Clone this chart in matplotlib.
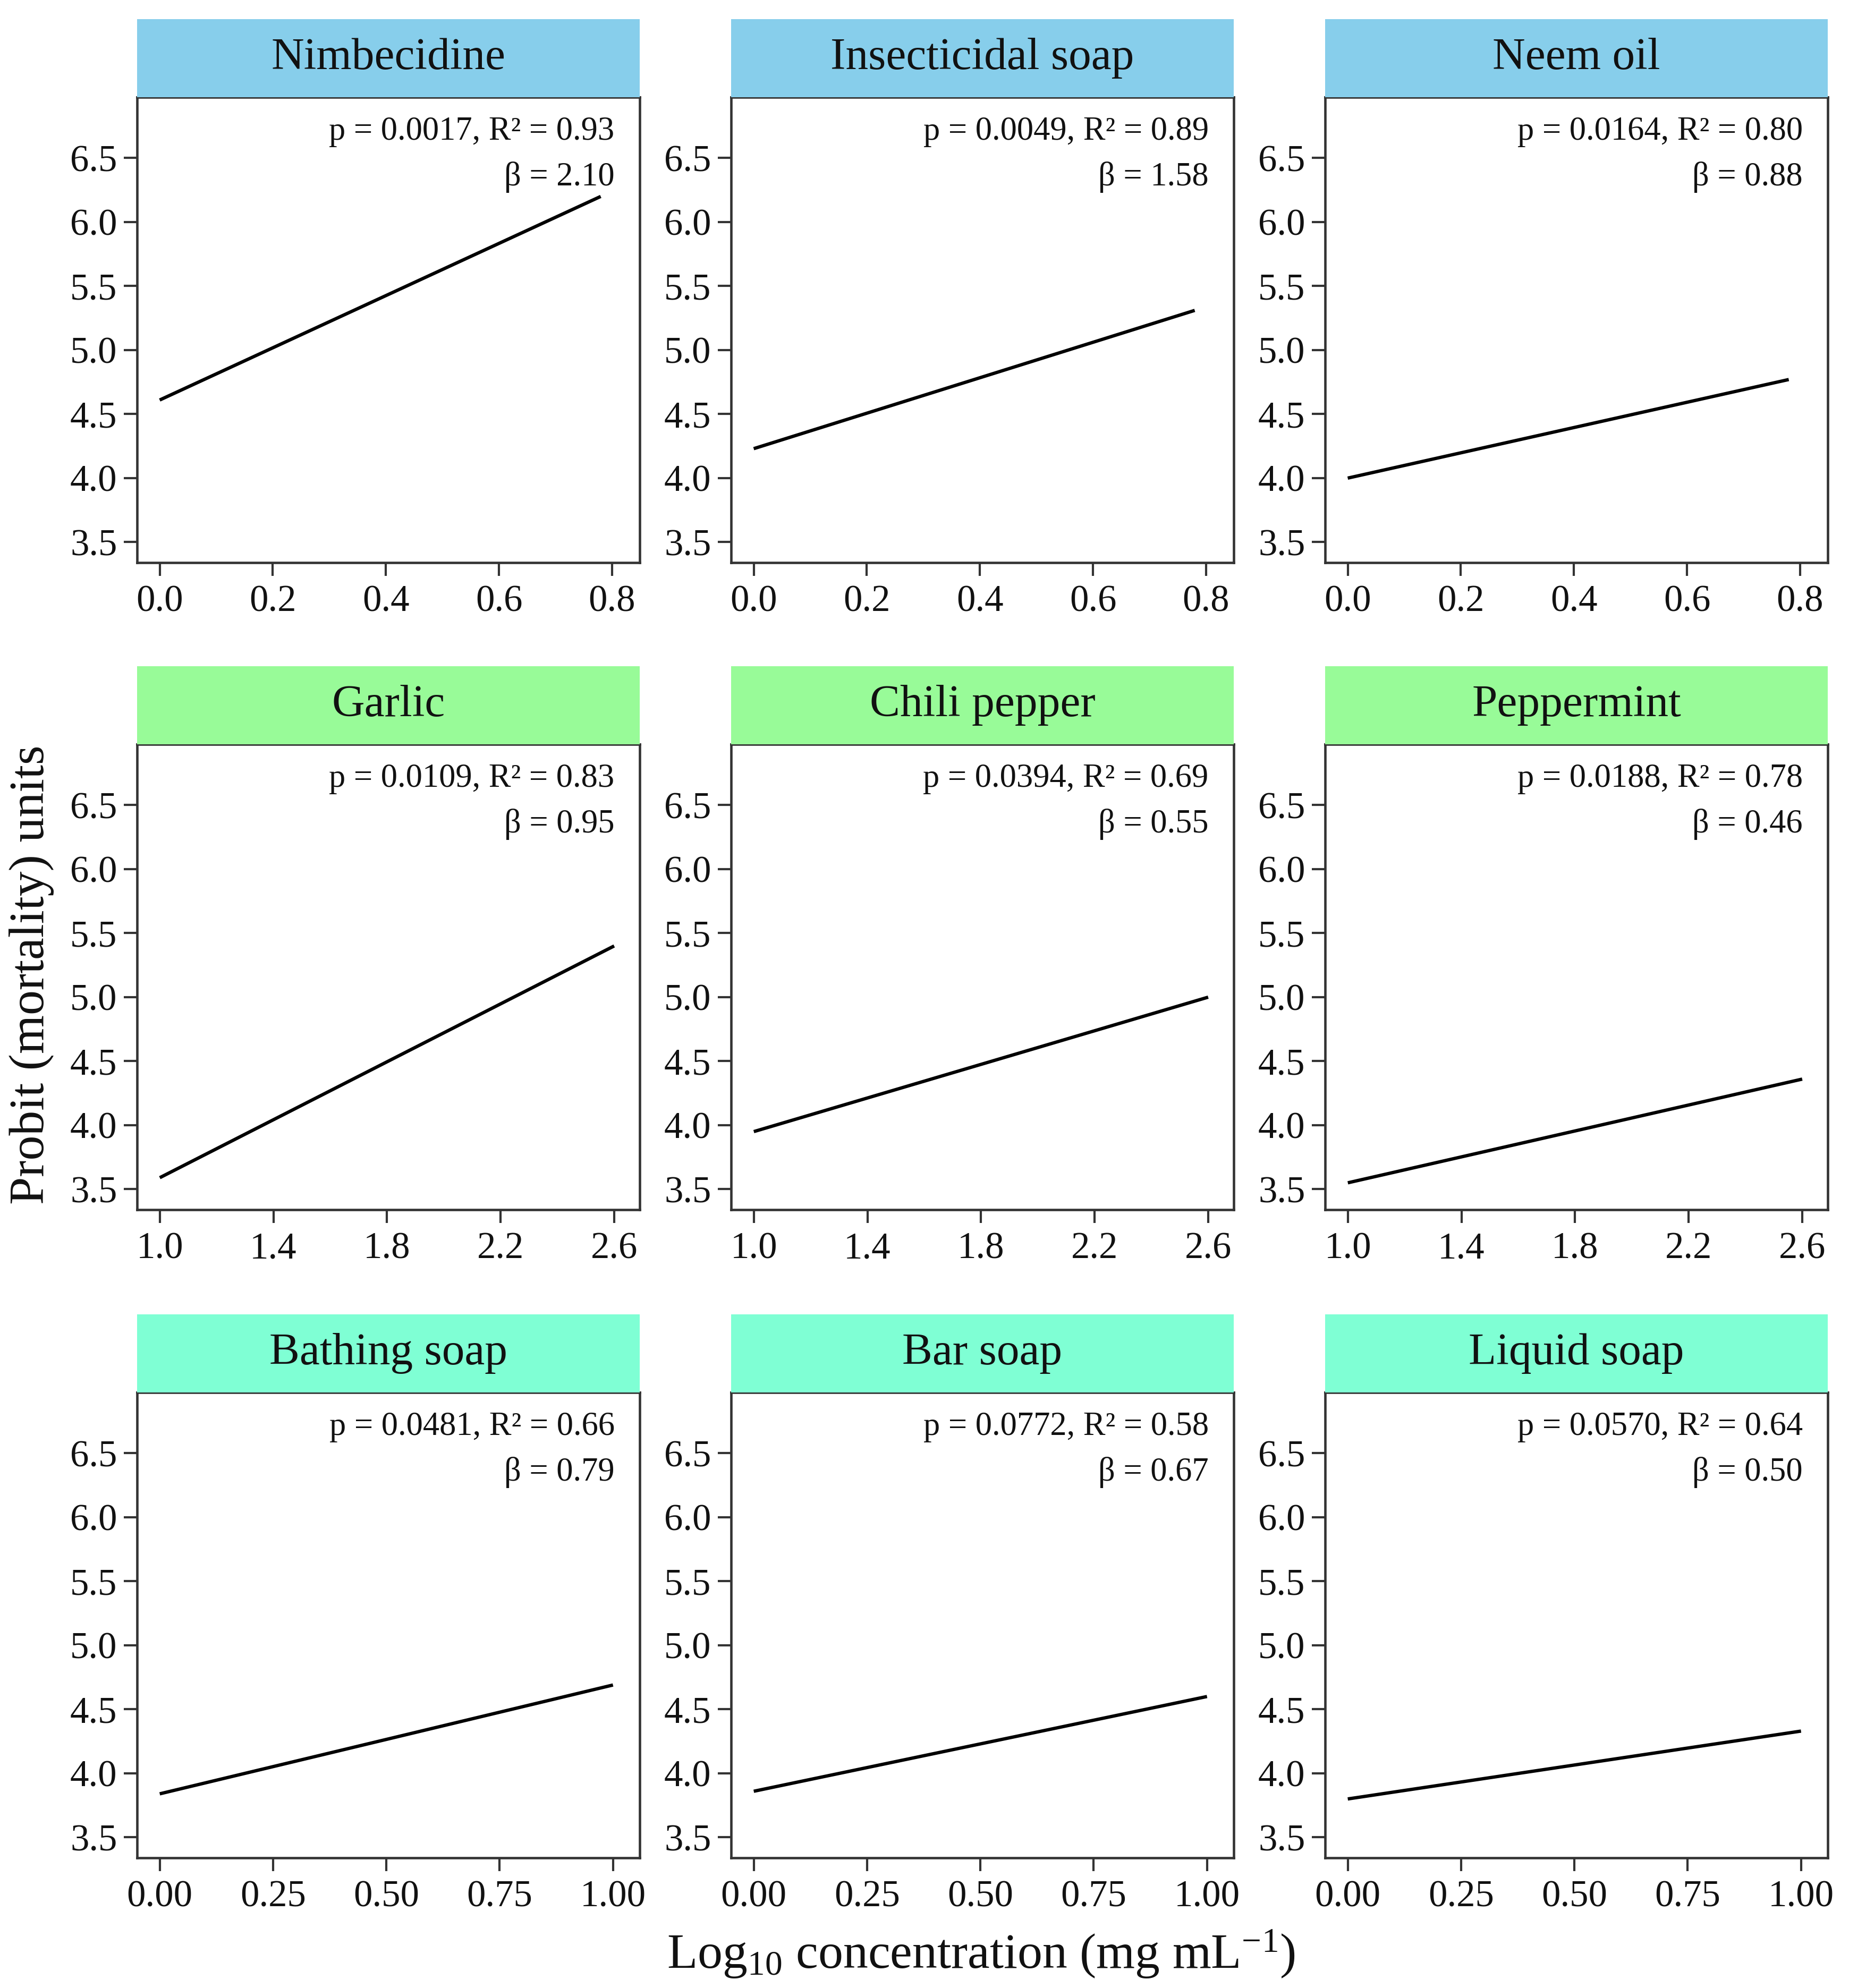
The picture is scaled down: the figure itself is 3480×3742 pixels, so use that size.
"""Probit regression lines for nine botanical / soap treatments (3x3 facets)."""

import matplotlib as mpl
import matplotlib.pyplot as plt

W, H, DPI = 3480, 3742, 300

NAMES = ["Nimbecidine", "Insecticidal soap", "Neem oil",
         "Garlic", "Chili pepper", "Peppermint",
         "Bathing soap", "Bar soap", "Liquid soap"]
STRIP = ["#87CEEB"] * 3 + ["#98FB98"] * 3 + ["#7FFFD4"] * 3

# fitted line end points
X_START = [0.0, 0.0, 0.0, 1.0, 1.0, 1.0, 0.0, 0.0, 0.0]
X_END = [0.78, 0.78, 0.78, 2.6, 2.6, 2.6, 1.0, 1.0, 1.0]
Y_START = [4.61, 4.23, 4.00, 3.59, 3.95, 3.55, 3.84, 3.86, 3.80]
Y_END = [6.20, 5.31, 4.77, 5.40, 5.00, 4.36, 4.69, 4.60, 4.33]

P_VAL = ["0.0017", "0.0049", "0.0164", "0.0109", "0.0394", "0.0188",
         "0.0481", "0.0772", "0.0570"]
R2 = ["0.93", "0.89", "0.80", "0.83", "0.69", "0.78", "0.66", "0.58", "0.64"]
BETA = ["2.10", "1.58", "0.88", "0.95", "0.55", "0.46", "0.79", "0.67", "0.50"]

ROW_XTICKS = [[0.0, 0.2, 0.4, 0.6, 0.8],
              [1.0, 1.4, 1.8, 2.2, 2.6],
              [0.0, 0.25, 0.5, 0.75, 1.0]]
ROW_XFMT = ["{:.1f}", "{:.1f}", "{:.2f}"]
ROW_XLIM = [(-0.040, 0.849), (0.92, 2.69), (-0.050, 1.059)]
YTICKS = [3.5, 4.0, 4.5, 5.0, 5.5, 6.0, 6.5]
YLIM = (3.34, 6.975)

INK = "#111111"
FRAME = "#333333"

mpl.rcParams.update({
    "font.family": ["Liberation Serif", "DejaVu Serif"],
    "mathtext.fontset": "custom",
    "mathtext.rm": "Liberation Serif",
    "mathtext.it": "Liberation Serif:italic",
    "text.color": INK,
    "xtick.color": FRAME,
    "ytick.color": FRAME,
    "xtick.labelcolor": INK,
    "ytick.labelcolor": INK,
    "xtick.labelsize": 17,
    "ytick.labelsize": 17,
    "xtick.major.size": 6,
    "ytick.major.size": 6,
    "xtick.major.width": 1.0,
    "ytick.major.width": 1.0,
    "xtick.major.pad": 4,
    "ytick.major.pad": 3,
})

fig = plt.figure(figsize=(W / DPI, H / DPI), dpi=DPI)

COL_LEFT = [258, 1376, 2494]
PANEL_W = 946
ROW_TOP = [183, 1401, 2621]
PANEL_H = 876
STRIP_H = 147


def px_box(left, top, width, height):
    return [left / W, 1 - (top + height) / H, width / W, height / H]


for i, name in enumerate(NAMES):
    row, col = divmod(i, 3)
    ax = fig.add_axes(px_box(COL_LEFT[col], ROW_TOP[row], PANEL_W, PANEL_H))
    ax.plot([X_START[i], X_END[i]], [Y_START[i], Y_END[i]], color="black",
            lw=1.5, solid_capstyle="butt")
    ax.set_xlim(*ROW_XLIM[row])
    ax.set_ylim(*YLIM)
    ax.set_xticks(ROW_XTICKS[row])
    ax.set_xticklabels([ROW_XFMT[row].format(t) for t in ROW_XTICKS[row]])
    ax.set_yticks(YTICKS)
    ax.set_yticklabels([f"{t:.1f}" for t in YTICKS])
    for sp in ax.spines.values():
        sp.set_color(FRAME)
        sp.set_linewidth(1.1)
    ax.text(0.95, 0.926, f"p = {P_VAL[i]}, R² = {R2[i]}", transform=ax.transAxes,
            ha="right", va="center", fontsize=15)
    ax.text(0.95, 0.828, f"β = {BETA[i]}", transform=ax.transAxes,
            ha="right", va="center", fontsize=15)

    sax = fig.add_axes(px_box(COL_LEFT[col], ROW_TOP[row] - STRIP_H,
                              PANEL_W, STRIP_H))
    sax.set_facecolor(STRIP[i])
    sax.set_xticks([])
    sax.set_yticks([])
    for sp in sax.spines.values():
        sp.set_visible(False)
    sax.text(0.5, 0.5, name, transform=sax.transAxes, ha="center",
             va="center", fontsize=20.5)

fig.text(60 / W, 1 - 1835 / H, "Probit (mortality) units", rotation=90,
         ha="center", va="center", fontsize=22.5)
fig.text(1847 / W, 1 - 3678 / H,
         r"Log$_{10}$ concentration (mg mL$^{-1}$)",
         ha="center", va="center", fontsize=22.5)

fig.savefig("out.png", dpi=DPI)
